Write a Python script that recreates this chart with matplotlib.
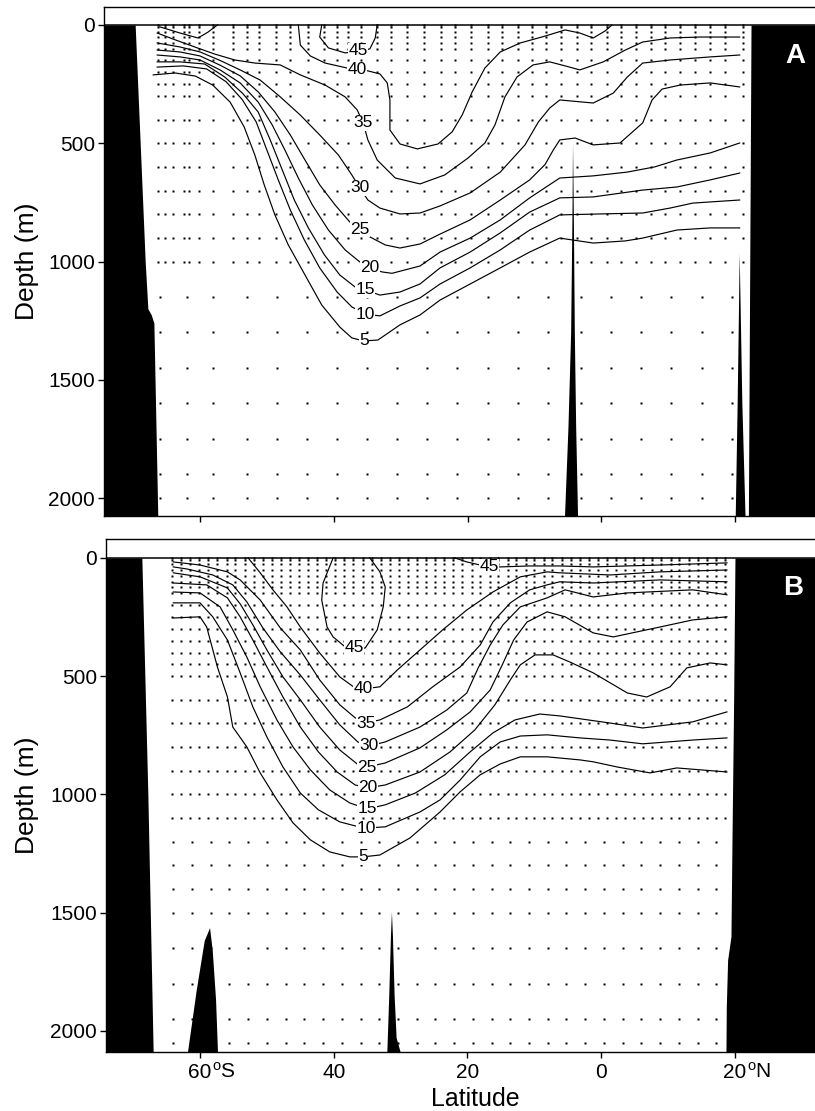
import matplotlib
matplotlib.use('Agg')
import matplotlib.pyplot as plt

plt.rcParams['font.family'] = ['Liberation Sans', 'DejaVu Sans']
plt.rcParams['mathtext.fontset'] = 'custom'
plt.rcParams['mathtext.rm'] = 'Liberation Sans'
plt.rcParams['mathtext.it'] = 'Liberation Sans:italic'
plt.rcParams['mathtext.bf'] = 'Liberation Sans:bold'

# ---------------- DATA ----------------
# Panel A contour lines: (latitude, depth m)
A_45 = [(-41.8, 0), (-42.1, 51), (-40.8, 97), (-38.3, 118), (-36.4, 112), (-34.6, 101), (-33.8, 55), (-33.5, 0)]
A_40a = [(-66.0, 8), (-63.0, 34), (-60.3, 55), (-58.8, 30), (-57.4, 0)]
A_40b = [(-45.3, 0), (-45.0, 85), (-43.5, 131), (-41.3, 161), (-38.0, 182), (-36.5, 190), (-34.9, 194), (-33.1, 207),
         (-32.0, 245), (-31.6, 317), (-31.6, 444), (-30.1, 503), (-27.5, 524), (-24.4, 503), (-22.3, 452), (-20.8, 381),
         (-19.3, 283), (-17.4, 182), (-15.1, 114), (-12.1, 76), (-8.4, 47), (-5.4, 21), (-3.2, 34), (-1.2, 55), (0.6, 25), (1.6, 0)]
A_35 = [(-66.4, 34), (-63.7, 63), (-60.4, 97), (-57.8, 123), (-54.8, 148), (-51.8, 161), (-48.0, 169), (-45.0, 211),
        (-41.3, 254), (-38.3, 304), (-36.5, 359), (-35.6, 414), (-34.9, 486), (-33.5, 571), (-30.8, 647), (-27.1, 672),
        (-23.4, 634), (-19.9, 562), (-17.4, 499), (-15.9, 423), (-14.4, 304), (-12.6, 220), (-10.2, 169), (-7.7, 156),
        (-5.4, 173), (-3.2, 190), (0.3, 156), (3.6, 106), (6.2, 72), (10.3, 55), (14.8, 51), (20.7, 51)]
A_30 = [(-66.4, 76), (-63.0, 93), (-60.0, 114), (-57.0, 150), (-54.0, 190), (-51.0, 233), (-48.0, 304), (-45.0, 381),
        (-42.1, 465), (-39.3, 550), (-37.3, 634), (-36.1, 689), (-34.9, 740), (-33.1, 774), (-30.1, 799), (-27.1, 795),
        (-24.1, 765), (-19.6, 710), (-15.1, 622), (-11.4, 507), (-9.4, 410), (-7.7, 351), (-6.2, 317),
        (-1.2, 330), (1.8, 288), (3.9, 220), (6.2, 161), (10.3, 148), (16.3, 135), (20.7, 127)]
A_25 = [(-66.4, 106), (-63.0, 114), (-60.0, 131), (-57.0, 170), (-54.0, 215), (-51.3, 283), (-48.8, 368), (-46.5, 465),
        (-44.3, 571), (-42.1, 676), (-39.8, 761), (-37.6, 833), (-36.1, 863), (-34.6, 896), (-32.3, 930), (-30.1, 943),
        (-27.1, 926), (-24.1, 884), (-19.6, 824), (-15.1, 740), (-10.7, 655), (-8.4, 590), (-7.2, 530), (-6.2, 486),
        (-3.9, 478), (-1.2, 507), (2.8, 499), (6.2, 414), (7.6, 317), (9.1, 271), (11.8, 254), (16.3, 245), (20.7, 262)]
A_20 = [(-66.4, 127), (-63.0, 135), (-60.0, 148), (-57.0, 190), (-54.0, 245), (-51.3, 326), (-49.2, 423), (-47.3, 529),
        (-45.3, 647), (-43.2, 761), (-40.8, 867), (-38.3, 951), (-36.1, 1002), (-34.6, 1027), (-32.8, 1044), (-31.3, 1050),
        (-27.1, 1019), (-24.1, 960), (-19.6, 901), (-15.1, 824), (-10.7, 731), (-6.2, 647), (-1.2, 638),
        (3.9, 622), (8.0, 600), (11.3, 571), (16.3, 541), (20.7, 499)]
A_15 = [(-66.4, 156), (-63.0, 156), (-59.3, 165), (-56.3, 220), (-53.6, 290), (-51.3, 368), (-49.5, 486), (-47.7, 613),
        (-45.9, 740), (-43.8, 858), (-41.4, 972), (-39.1, 1057), (-36.8, 1108), (-35.3, 1120), (-33.1, 1142), (-30.1, 1129),
        (-27.1, 1095), (-24.1, 1027), (-19.6, 960), (-15.1, 879), (-10.7, 791), (-6.2, 731), (-1.2, 727),
        (6.2, 698), (11.3, 685), (16.3, 655), (20.7, 626)]
A_10 = [(-66.4, 178), (-62.5, 173), (-59.0, 186), (-56.1, 240), (-53.7, 315), (-51.6, 410), (-50.0, 529), (-48.3, 655),
        (-46.5, 782), (-44.4, 909), (-42.1, 1027), (-39.5, 1129), (-37.3, 1192), (-35.3, 1222), (-33.1, 1230), (-30.1, 1188),
        (-27.1, 1154), (-24.1, 1095), (-19.6, 1027), (-15.1, 951), (-10.7, 867), (-6.2, 803), (-0.2, 799),
        (6.2, 795), (10.3, 774), (13.7, 753), (20.7, 740)]
A_5 = [(-67.0, 211), (-63.7, 203), (-60.7, 216), (-58.1, 254), (-55.5, 326), (-53.4, 431), (-51.8, 550), (-50.4, 676),
       (-48.8, 803), (-46.8, 930), (-44.3, 1057), (-41.8, 1184), (-39.1, 1277), (-37.3, 1323), (-35.5, 1336), (-33.4, 1332),
       (-30.1, 1268), (-27.1, 1226), (-24.1, 1163), (-19.6, 1095), (-15.1, 1027), (-10.7, 960), (-6.2, 901),
       (-1.2, 922), (3.6, 913), (6.2, 901), (11.3, 867), (16.3, 858), (20.7, 858)]
A_contours = [A_45, A_40a, A_40b, A_35, A_30, A_25, A_20, A_15, A_10, A_5]
A_labels = [(45, -36.4, 110), (40, -36.5, 190), (35, -35.6, 414), (30, -36.1, 689), (25, -36.1, 863),
            (20, -34.6, 1027), (15, -35.3, 1120), (10, -35.3, 1222), (5, -35.5, 1336)]

# Panel B contour lines
B_45a = [(-40.1, 0), (-41.6, 106), (-41.8, 178), (-41.0, 292), (-40.1, 334), (-38.3, 376), (-37.0, 380), (-35.3, 381),
         (-33.5, 304), (-32.6, 207), (-32.3, 123), (-33.1, 59), (-34.6, 0)]
B_45b = [(-21.9, 0), (-20.1, 17), (-18.1, 30), (-16.8, 38), (-15.1, 38), (-10.7, 34), (-6.2, 34), (-1.2, 38), (8.8, 30), (18.8, 21)]
B_40 = [(-52.8, 0), (-51.0, 63), (-49.1, 135), (-47.0, 207), (-45.0, 292), (-42.1, 402), (-39.1, 503), (-36.8, 550),
        (-35.6, 554), (-33.1, 545), (-30.5, 474), (-27.1, 389), (-23.7, 304), (-20.1, 220), (-16.2, 144), (-12.1, 80),
        (-8.1, 59), (-6.2, 63), (1.3, 72), (8.8, 59), (18.8, 51)]
B_35 = [(-64.0, 17), (-60.0, 30), (-55.9, 59), (-54.0, 93), (-51.0, 178), (-48.0, 296), (-45.0, 389), (-42.1, 516),
        (-39.1, 621), (-36.8, 676), (-35.2, 698), (-33.1, 685), (-29.0, 630), (-25.2, 545), (-21.1, 461), (-18.1, 368),
        (-16.2, 271), (-13.6, 190), (-10.7, 135), (-8.1, 114), (-6.2, 101), (-1.2, 106), (8.8, 93), (18.8, 101)]
B_30 = [(-64.0, 38), (-61.9, 47), (-58.1, 72), (-55.1, 114), (-53.0, 186), (-50.6, 296), (-48.0, 397), (-45.0, 495),
        (-42.1, 600), (-39.1, 706), (-36.4, 778), (-34.7, 795), (-32.3, 778), (-27.1, 715), (-23.1, 643), (-20.1, 571),
        (-18.4, 465), (-16.6, 368), (-14.7, 283), (-12.1, 207), (-8.1, 169), (-5.4, 135), (-1.2, 165), (3.9, 148),
        (13.7, 135), (18.8, 156)]
B_25 = [(-64.0, 63), (-60.0, 80), (-55.9, 127), (-54.0, 194), (-52.1, 283), (-50.0, 389), (-47.6, 503), (-45.0, 600),
        (-42.1, 715), (-39.1, 812), (-36.5, 871), (-35.0, 884), (-32.3, 867), (-27.1, 803), (-23.1, 727), (-19.6, 651),
        (-16.6, 558), (-14.8, 452), (-13.1, 347), (-11.1, 271), (-8.1, 228), (-5.4, 249), (-1.2, 317), (1.8, 334),
        (8.8, 292), (13.7, 262), (18.8, 249)]
B_20 = [(-64.0, 106), (-59.0, 114), (-55.9, 169), (-54.0, 249), (-52.1, 347), (-50.0, 461), (-47.6, 588), (-45.0, 715),
        (-42.3, 820), (-39.5, 905), (-36.8, 960), (-34.9, 972), (-32.3, 960), (-27.1, 905), (-22.6, 820), (-18.9, 727),
        (-15.9, 621), (-13.6, 516), (-12.1, 452), (-9.9, 410), (-7.2, 410), (-4.7, 440), (-1.2, 486), (3.9, 571),
        (6.8, 588), (10.3, 545), (12.8, 465), (16.3, 444), (18.8, 452)]
B_15 = [(-64.0, 144), (-60.0, 148), (-57.0, 207), (-55.1, 304), (-53.0, 419), (-51.0, 545), (-48.5, 685), (-46.1, 799),
        (-43.5, 896), (-40.6, 981), (-37.6, 1036), (-35.0, 1061), (-32.3, 1044), (-27.8, 994), (-23.4, 917), (-19.6, 820),
        (-16.2, 740), (-12.9, 685), (-9.2, 660), (-6.2, 668), (1.3, 698), (6.2, 719), (13.7, 693), (18.8, 651)]
B_10 = [(-64.0, 190), (-60.0, 190), (-58.1, 249), (-55.9, 347), (-54.0, 486), (-52.1, 630), (-50.0, 757), (-47.6, 884),
        (-45.0, 994), (-42.3, 1065), (-39.1, 1116), (-36.8, 1133), (-35.2, 1142), (-32.3, 1137), (-27.1, 1074),
        (-24.1, 1023), (-21.1, 939), (-18.1, 841), (-15.1, 778), (-12.1, 753), (-8.1, 748), (-3.2, 761), (1.3, 770),
        (6.2, 786), (13.7, 770), (18.8, 761)]
B_5 = [(-64.0, 254), (-60.0, 249), (-59.0, 292), (-57.4, 461), (-55.9, 588), (-55.1, 715), (-53.0, 799), (-51.0, 909),
       (-48.5, 1023), (-46.1, 1120), (-43.5, 1192), (-40.6, 1243), (-37.6, 1264), (-35.6, 1264), (-33.1, 1256),
       (-28.6, 1184), (-24.1, 1074), (-21.1, 989), (-18.1, 917), (-15.1, 871), (-12.1, 841), (-8.1, 841), (-3.2, 854),
       (-1.2, 862), (2.4, 884), (7.3, 909), (11.3, 888), (18.8, 905)]
B_contours = [B_45a, B_45b, B_40, B_35, B_30, B_25, B_20, B_15, B_10, B_5]
B_labels = [(45, -16.8, 38), (45, -37.0, 380), (40, -35.6, 554), (35, -35.2, 698), (30, -34.7, 795),
            (25, -35.0, 884), (20, -34.9, 972), (15, -35.0, 1061), (10, -35.2, 1142), (5, -35.6, 1264)]

# Sampling stations (latitudes) and sample depths
A_station_lats = [-66.3, -65.2, -64.0, -62.4, -61.6, -60.2, -58.1, -55.0, -53.0, -51.2, -48.7, -46.5, -43.9, -41.5,
                  -39.5, -37.8, -36.0, -33.6, -31.4, -29.0, -26.5, -24.0, -21.8, -19.5, -17.0, -14.8, -12.5, -10.3,
                  -8.2, -6.0, -3.6, -1.5, 0.8, 3.0, 5.2, 7.4, 9.6, 11.8, 14.0, 16.2, 18.5, 21.2]
A_depths_upper = [0, 10, 30, 50, 75, 100, 150, 200, 250, 300, 400, 500, 600, 700, 800, 900, 1000]
A_deep_lats = [-66.0, -62.0, -58.0, -53.0, -48.5, -44.0, -39.5, -35.0, -30.5, -26.0, -21.5, -17.0, -12.5, -8.0,
               -3.0, 1.5, 6.0, 10.5, 15.0, 19.5]
A_depths_deep = [1150, 1300, 1450, 1600, 1750, 1900, 2000]

B_station_lats = [-64.2, -62.8, -61.5, -60.1, -58.8, -57.4, -56.0, -54.7, -53.3, -52.0, -50.6, -49.3, -47.9, -46.5,
                  -45.2, -43.8, -42.5, -41.1, -39.8, -38.4, -37.1, -35.7, -34.3, -33.0, -31.6, -30.3, -28.9, -27.6,
                  -26.2, -24.9, -23.5, -22.2, -20.8, -19.4, -18.1, -16.7, -15.4, -14.0, -12.7, -11.3, -10.0, -8.6,
                  -7.3, -5.9, -4.5, -3.2, -1.8, -0.5, 0.9, 2.2, 3.6, 4.9, 6.3, 7.6, 9.0, 10.4, 11.7, 13.1, 14.4,
                  15.8, 17.1, 18.5]
B_depths_upper = [0, 10, 25, 50, 75, 100, 125, 150, 200, 250, 300, 350, 400, 450, 500, 600, 700, 800, 900, 1000, 1100]
B_deep_lats = [-64.0, -61.2, -58.4, -55.6, -52.8, -50.0, -47.2, -44.4, -41.6, -38.8, -36.0, -33.2, -30.4, -27.6,
               -24.8, -22.0, -19.2, -16.4, -13.6, -10.8, -8.0, -5.2, -2.4, 0.4, 3.2, 6.0, 8.8, 11.6, 14.4, 17.2]
B_depths_deep = [1200, 1300, 1400, 1500, 1650, 1800, 1950, 2050]

# Bottom topography
A_wall_left_lat = [-69.7, -68.2, -67.8, -67.3, -66.9, -66.3]
A_wall_left_dep = [0, 1000, 1200, 1225, 1260, 2100]
A_wall_right_lat = [22.4, 22.0]
A_wall_right_dep = [0, 2100]
A_ridge1_lat = [-5.45, -4.9, -4.5, -4.3, -4.22, -4.1, -3.95, -3.75, -3.45]
A_ridge1_dep = [2100, 1700, 1300, 800, 500, 800, 1300, 1700, 2100]
A_ridge2_lat = [20.1, 20.4, 20.6, 20.7, 20.85, 21.1, 21.6]
A_ridge2_dep = [2100, 1600, 1200, 965, 1200, 1600, 2100]

B_wall_left_lat = [-68.7, -67.8, -67.0]
B_wall_left_dep = [0, 1000, 2100]
B_wall_right_lat = [20.0, 19.8, 19.55, 19.4, 18.9, 18.7, 18.65]
B_wall_right_dep = [0, 600, 1200, 1600, 1700, 1900, 2100]
B_ridge1_lat = [-61.85, -60.5, -59.3, -58.5, -58.1, -57.6, -57.3]
B_ridge1_dep = [2100, 1830, 1620, 1565, 1660, 1870, 2100]
B_ridge2_lat = [-32.0, -31.7, -31.45, -31.3, -31.15, -30.9, -30.6, -29.9]
B_ridge2_dep = [2100, 1850, 1600, 1497, 1600, 1850, 2030, 2100]

x_ticks = [-60, -40, -20, 0, 20]
x_tick_text = ['60', '40', '20', '0', '20']
x_tick_suffix = [(-60, 'S'), (20, 'N')]
y_ticks = [0, 500, 1000, 1500, 2000]

# ---------------- FIGURE ----------------
W, H = 815, 1111
fig = plt.figure(figsize=(W / 100, H / 100), dpi=100)


def px_axes(l, t, r, b):
    return fig.add_axes([l / W, 1 - b / H, (r - l) / W, (b - t) / H])


axA = px_axes(104, 7, 830, 516)
axB = px_axes(106, 539, 830, 1052)


def draw(ax, xlim, ylim, contours, labels, st_up, dep_up, st_dp, dep_dp,
         wl, wr, ridges, letter, letter_pos):
    ax.set_xlim(*xlim)
    ax.set_ylim(*ylim)
    xs = [la for la in st_up for d in dep_up] + [la for la in st_dp for d in dep_dp]
    ys = [d for la in st_up for d in dep_up] + [d for la in st_dp for d in dep_dp]
    ax.plot(xs, ys, ls='none', marker='s', ms=1.5, mec='none', mfc='k', zorder=2)
    for line in contours:
        ax.plot([p[0] for p in line], [p[1] for p in line], color='k', lw=0.85, zorder=3)
    for lev, la, de in labels:
        ax.text(la, de, str(lev), fontsize=12.5, ha='center', va='center', zorder=4,
                bbox=dict(fc='white', ec='none', pad=0.2))
    ax.fill_betweenx(wl[1], xlim[0] - 5, wl[0], color='k', lw=0, zorder=5)
    ax.fill_betweenx(wr[1], wr[0], xlim[1] + 5, color='k', lw=0, zorder=5)
    for rl, rd in ridges:
        ax.fill(rl, rd, color='k', lw=0, zorder=5)
    ax.axhline(0, color='k', lw=1.1, zorder=6)
    ax.text(letter_pos[0], letter_pos[1], letter, color='white', fontsize=20, fontweight='bold',
            ha='center', va='baseline', zorder=7)
    ax.set_xticks(x_ticks)
    ax.set_yticks(y_ticks)
    ax.set_yticklabels([str(v) for v in y_ticks])
    ax.tick_params(axis='both', direction='out', length=4.5, width=1.0, labelsize=15, pad=2,
                   top=False, right=False, labelbottom=False)
    ax.spines['right'].set_visible(False)
    for s in ['top', 'left', 'bottom']:
        ax.spines[s].set_linewidth(1.0)


draw(axA, (-74.36, 34.21), (2076, -76), A_contours, A_labels, A_station_lats, A_depths_upper,
     A_deep_lats, A_depths_deep, (A_wall_left_lat, A_wall_left_dep), (A_wall_right_lat, A_wall_right_dep),
     [(A_ridge1_lat, A_ridge1_dep), (A_ridge2_lat, A_ridge2_dep)], 'A', (29.0, 161))
draw(axB, (-74.06, 34.21), (2089, -80), B_contours, B_labels, B_station_lats, B_depths_upper,
     B_deep_lats, B_depths_deep, (B_wall_left_lat, B_wall_left_dep), (B_wall_right_lat, B_wall_right_dep),
     [(B_ridge1_lat, B_ridge1_dep), (B_ridge2_lat, B_ridge2_dep)], 'B', (28.7, 156))

# x tick labels (number centred on tick, hemisphere suffix after it)
for v, s in zip(x_ticks, x_tick_text):
    axB.annotate(s, xy=(v, 0), xycoords=('data', 'axes fraction'), xytext=(0, -18.7),
                 textcoords='offset points', ha='center', va='baseline', fontsize=15, annotation_clip=False)
for v, s in x_tick_suffix:
    axB.annotate(r'$^{\mathrm{o}}$' + s, xy=(v, 0), xycoords=('data', 'axes fraction'), xytext=(8.6, -18.7),
                 textcoords='offset points', ha='left', va='baseline', fontsize=15, annotation_clip=False)

fig.text(475 / W, 1 - 1106 / H, 'Latitude', ha='center', va='baseline', fontsize=18)
fig.text(27 / W, 1 - 261.5 / H, 'Depth (m)', rotation=90, ha='center', va='center', fontsize=19)
fig.text(27 / W, 1 - 795.5 / H, 'Depth (m)', rotation=90, ha='center', va='center', fontsize=19)

fig.savefig('out.png', dpi=100)
